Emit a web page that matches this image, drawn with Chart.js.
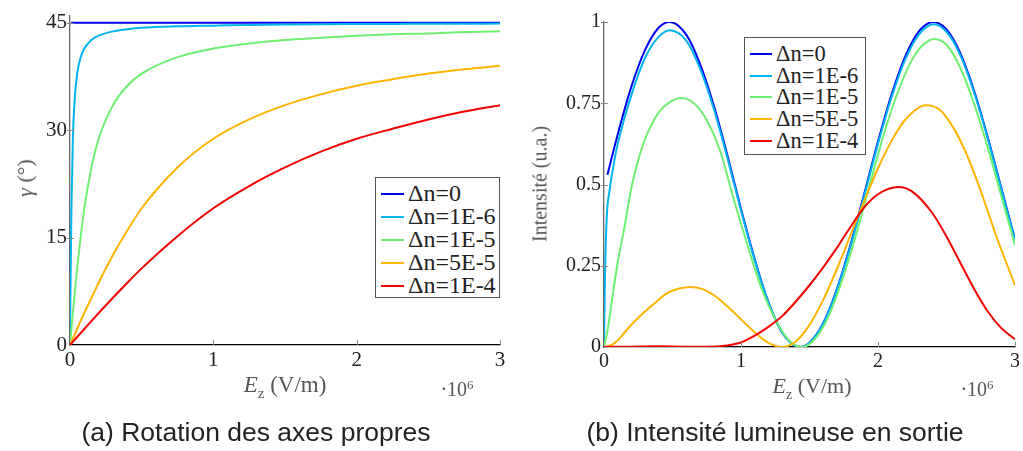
<!DOCTYPE html>
<html>
<head>
<meta charset="utf-8">
<script src="https://cdn.jsdelivr.net/npm/chart.js@4.4.1/dist/chart.umd.min.js"></script>
<style>
  body { margin: 0; background: #fff; }
  #page { position: relative; width: 1023px; height: 451px; overflow: hidden; background: #fff; }
  canvas { position: absolute; top: 0; }
  .txt { position: absolute; font-family: 'Liberation Serif', 'DejaVu Serif', 'Times New Roman', serif; color: #555; white-space: nowrap; }
  .legend { position: absolute; background: #fff; border: 1px solid #555; font-family: 'Liberation Serif', 'DejaVu Serif', 'Times New Roman', serif; color: #222; box-sizing: border-box; }
  .legend .row { display: flex; align-items: center; }
  .legend .swatch { display: inline-block; height: 2px; }
  .caption { position: absolute; font-family: 'Liberation Sans', Arial, sans-serif; font-size: 26.5px; color: #222; text-align: center; line-height: 26px; }
</style>
</head>
<body>
<div id="page">
  <canvas id="chartA" width="512" height="451" style="left:0"></canvas>
  <canvas id="chartB" width="511" height="451" style="left:512px"></canvas>

  <div class="txt" style="left:25px; top:178px; font-size:22px; transform:translate(-50%,-50%) rotate(-90deg);"><i>γ</i> (°)</div>
  <div class="txt" style="left:285px; top:387px; font-size:23px; transform:translate(-50%,-50%);"><i>E</i><sub style="font-size:15px">z</sub> (V/m)</div>
  <div class="txt" style="left:457px; top:389px; font-size:20px; transform:translate(-50%,-50%);">·10<sup style="font-size:13px">6</sup></div>

  <div class="txt" style="left:540px; top:184px; font-size:20px; transform:translate(-50%,-50%) rotate(-90deg);">Intensité (u.a.)</div>
  <div class="txt" style="left:812px; top:388px; font-size:22px; transform:translate(-50%,-50%);"><i>E</i><sub style="font-size:14px">z</sub> (V/m)</div>
  <div class="txt" style="left:977px; top:389px; font-size:20px; transform:translate(-50%,-50%);">·10<sup style="font-size:13px">6</sup></div>

  <div class="legend" id="legendA" style="left:375px; top:177px; width:125px; height:121px; padding:4px 0 2px 0; font-size:24px;"></div>
  <div class="legend" id="legendB" style="left:744px; top:37px; width:122px; height:118px; padding:5px 0 2px 0; font-size:22.5px;"></div>

  <div class="caption" style="left:0; top:419px; width:512px;">(a) Rotation des axes propres</div>
  <div class="caption" style="left:575px; top:419px; width:400px;">(b) Intensité lumineuse en sortie</div>
</div>

<script>
// series labels and colours (shared by both panels)
const seriesLabels = ['Δn=0', 'Δn=1E-6', 'Δn=1E-5', 'Δn=5E-5', 'Δn=1E-4'];
const seriesColors = ['#0000f5', '#00b4f0', '#70f070', '#ffb400', '#f50000'];
const serifFont = "'Liberation Serif', 'DejaVu Serif', 'Times New Roman', serif";

// tick labels
const xTicks = [0, 1, 2, 3];
const yTicksA = [0, 15, 30, 45];
const yTicksB = [0, 0.25, 0.5, 0.75, 1];
const yTickLabelsB = ['0', '0.25', '0.5', '0.75', '1'];

// (a) rotation angle gamma (deg) vs Ez (x 1e6 V/m)
const ezA = [0, 0.005, 0.01, 0.02, 0.03, 0.05, 0.075, 0.1, 0.15, 0.2, 0.3, 0.4, 0.5, 0.75, 1, 1.25, 1.5, 1.75, 2, 2.25, 2.5, 2.75, 3];
const ezA0 = [0.008, 3];
const gammaDn0 = [45, 45];
const gammaDn1e6 = [0, 10.7, 19.1, 28.8, 33.5, 37.9, 40.2, 41.4, 42.6, 43.2, 43.8, 44.1, 44.3, 44.5, 44.6, 44.7, 44.76, 44.8, 44.82, 44.84, 44.85, 44.87, 44.88];
const gammaDn1e5 = [0, 1.1, 2.2, 4.5, 6.6, 10.7, 15.2, 19.1, 24.8, 28.8, 33.5, 36.2, 37.9, 40.2, 41.4, 42.1, 42.6, 42.9, 43.2, 43.4, 43.5, 43.7, 43.8];
const gammaDn5e5 = [0, 0.22, 0.45, 0.9, 1.35, 2.24, 3.4, 4.5, 6.6, 8.7, 12.6, 16.0, 19.1, 24.8, 28.8, 31.5, 33.5, 35.0, 36.2, 37.1, 37.9, 38.5, 39.0];
const gammaDn1e4 = [0, 0.11, 0.22, 0.45, 0.67, 1.12, 1.68, 2.24, 3.35, 4.46, 6.6, 8.7, 10.7, 15.2, 19.1, 22.2, 24.8, 27.0, 28.8, 30.2, 31.5, 32.6, 33.5];

// (b) output intensity (a.u.) vs Ez (x 1e6 V/m)
const ezB0 = [0.025, 0.1, 0.2, 0.3, 0.4, 0.48, 0.6, 0.7, 0.8, 0.9, 1.0, 1.1, 1.2, 1.3, 1.43, 1.5, 1.6, 1.7, 1.8, 1.9, 2.0, 2.1, 2.2, 2.3, 2.405, 2.5, 2.6, 2.7, 2.8, 2.9, 3.0];
const intDn0 = [0.53, 0.654, 0.801, 0.914, 0.983, 1.0, 0.961, 0.872, 0.745, 0.591, 0.425, 0.27, 0.138, 0.045, 0, 0.013, 0.073, 0.178, 0.315, 0.472, 0.632, 0.778, 0.895, 0.972, 1.0, 0.977, 0.905, 0.79, 0.647, 0.489, 0.331];
const ezB1 = [0, 0.005, 0.01, 0.02, 0.04, 0.07, 0.1, 0.2, 0.3, 0.4, 0.48, 0.6, 0.7, 0.8, 0.9, 1.0, 1.1, 1.2, 1.3, 1.43, 1.5, 1.6, 1.7, 1.8, 1.9, 2.0, 2.1, 2.2, 2.3, 2.405, 2.5, 2.6, 2.7, 2.8, 2.9, 3.0];
const intDn1e6 = [0, 0.16, 0.27, 0.40, 0.48, 0.56, 0.625, 0.775, 0.89, 0.955, 0.975, 0.943, 0.858, 0.735, 0.583, 0.42, 0.267, 0.137, 0.045, 0, 0.013, 0.072, 0.176, 0.311, 0.466, 0.625, 0.77, 0.886, 0.962, 0.993, 0.97, 0.899, 0.785, 0.643, 0.485, 0.328];
const ezB2 = [0, 0.025, 0.05, 0.1, 0.15, 0.2, 0.25, 0.3, 0.4, 0.5, 0.56, 0.65, 0.75, 0.85, 0.95, 1.05, 1.15, 1.25, 1.35, 1.446, 1.55, 1.65, 1.75, 1.85, 1.95, 2.05, 2.15, 2.25, 2.33, 2.41, 2.5, 2.6, 2.7, 2.8, 2.9, 3.0];
const intDn1e5 = [0, 0.05, 0.12, 0.26, 0.37, 0.49, 0.575, 0.64, 0.722, 0.758, 0.766, 0.752, 0.698, 0.6, 0.45, 0.31, 0.18, 0.085, 0.02, 0, 0.03, 0.105, 0.22, 0.36, 0.515, 0.665, 0.79, 0.885, 0.93, 0.948, 0.93, 0.86, 0.75, 0.615, 0.465, 0.313];
const ezB3 = [0, 0.05, 0.1, 0.175, 0.25, 0.367, 0.45, 0.55, 0.63, 0.72, 0.8, 0.906, 1.0, 1.1, 1.2, 1.3, 1.4, 1.5, 1.6, 1.7, 1.8, 1.9, 2.0, 2.1, 2.2, 2.35, 2.45, 2.55, 2.65, 2.75, 2.873, 3.0];
const intDn5e5 = [0, 0.005, 0.02, 0.057, 0.09, 0.134, 0.163, 0.18, 0.185, 0.178, 0.16, 0.123, 0.085, 0.045, 0.013, 0, 0.017, 0.068, 0.145, 0.24, 0.345, 0.45, 0.55, 0.635, 0.7, 0.744, 0.73, 0.675, 0.59, 0.48, 0.33, 0.19];
const ezB4 = [0, 0.2, 0.4, 0.6, 0.75, 0.9, 1.0, 1.1, 1.2, 1.3, 1.4, 1.5, 1.6, 1.7, 1.8, 1.9, 2.0, 2.15, 2.25, 2.4, 2.5, 2.6, 2.7, 2.8, 2.9, 3.0];
const intDn1e4 = [0, 0.001, 0.002, 0.001, 0.001, 0.005, 0.014, 0.035, 0.062, 0.095, 0.14, 0.19, 0.245, 0.305, 0.37, 0.43, 0.47, 0.492, 0.478, 0.41, 0.34, 0.26, 0.18, 0.11, 0.058, 0.024];

function toPoints(xs, ys) {
    return xs.map((x, i) => ({ x: x, y: ys[i] }));
}

function makeDatasets(pairs) {
    // later series drawn on top, like the original plot
    return pairs.map((p, i) => ({
        label: seriesLabels[i],
        data: toPoints(p[0], p[1]),
        borderColor: seriesColors[i],
        borderWidth: 2,
        pointRadius: 0,
        fill: false,
        cubicInterpolationMode: 'monotone',
        order: pairs.length - i
    }));
}

// small tick marks pointing into the plot, pgfplots style
const innerTicks = {
    id: 'innerTicks',
    afterDraw(chart) {
        const ctx = chart.ctx;
        const xs = chart.scales.x;
        const ys = chart.scales.y;
        const area = chart.chartArea;
        ctx.save();
        ctx.strokeStyle = '#8a8a8a';
        ctx.lineWidth = 1;
        xs.ticks.forEach(t => {
            if (t.value === xs.min) return;
            const px = Math.round(xs.getPixelForValue(t.value)) + 0.5;
            ctx.beginPath();
            ctx.moveTo(px, area.bottom);
            ctx.lineTo(px, area.bottom - 5);
            ctx.stroke();
        });
        ys.ticks.forEach(t => {
            if (t.value === ys.min) return;
            const py = Math.round(ys.getPixelForValue(t.value)) + 0.5;
            ctx.beginPath();
            ctx.moveTo(area.left - 3, py);
            ctx.lineTo(area.left + 4, py);
            ctx.stroke();
        });
        ctx.restore();
    }
};

function axisOptions(ticksList, labels, min, max, fontSize, fit, borderColor) {
    return {
        type: 'linear',
        min: min,
        max: max,
        afterBuildTicks: s => { s.ticks = ticksList.map(v => ({ value: v })); },
        ticks: {
            font: { family: serifFont, size: fontSize },
            color: '#222',
            padding: 3,
            maxRotation: 0,
            autoSkip: false,
            callback: (v) => {
                const i = ticksList.indexOf(v);
                return labels ? labels[i] : String(v);
            }
        },
        grid: { display: true, drawOnChartArea: false, drawTicks: false },
        border: { display: true, color: borderColor, width: 1.3 },
        afterFit: fit
    };
}

function buildChart(canvasId, datasets, yTicks, yLabels, yMax, fontSize, pad, yWidth, xHeight) {
    return new Chart(document.getElementById(canvasId), {
        type: 'line',
        data: { datasets: datasets },
        options: {
            responsive: false,
            animation: false,
            layout: { padding: pad },
            plugins: { legend: { display: false }, tooltip: { enabled: false } },
            scales: {
                x: axisOptions(xTicks, null, 0, 3, fontSize, s => { s.height = xHeight; }, '#000'),
                y: axisOptions(yTicks, yLabels, 0, yMax, fontSize, s => { s.width = yWidth; }, '#666')
            }
        },
        plugins: [innerTicks]
    });
}

function buildLegend(boxId, rowHeight, lineWidth, gap) {
    const box = document.getElementById(boxId);
    seriesLabels.forEach((label, i) => {
        const row = document.createElement('div');
        row.className = 'row';
        row.style.height = rowHeight + 'px';
        const swatch = document.createElement('span');
        swatch.className = 'swatch';
        swatch.style.width = lineWidth + 'px';
        swatch.style.margin = '0 ' + gap + 'px 0 5px';
        swatch.style.background = seriesColors[i];
        const text = document.createElement('span');
        text.textContent = label;
        row.appendChild(swatch);
        row.appendChild(text);
        box.appendChild(row);
    });
}

const setsA = makeDatasets([
    [ezA0, gammaDn0], [ezA, gammaDn1e6], [ezA, gammaDn1e5], [ezA, gammaDn5e5], [ezA, gammaDn1e4]
]);
const setsB = makeDatasets([
    [ezB0, intDn0], [ezB1, intDn1e6], [ezB2, intDn1e5], [ezB3, intDn5e5], [ezB4, intDn1e4]
]);

buildChart('chartA', setsA, yTicksA, null, 46, 21, { top: 9, right: 12, left: 0, bottom: 0 }, 70, 106);
buildChart('chartB', setsB, yTicksB, yTickLabelsB, 1, 20, { top: 22, right: 2, left: 0, bottom: 0 }, 92, 104);
buildLegend('legendA', 23, 23, 4);
buildLegend('legendB', 21.7, 22, 4);
</script>
</body>
</html>
